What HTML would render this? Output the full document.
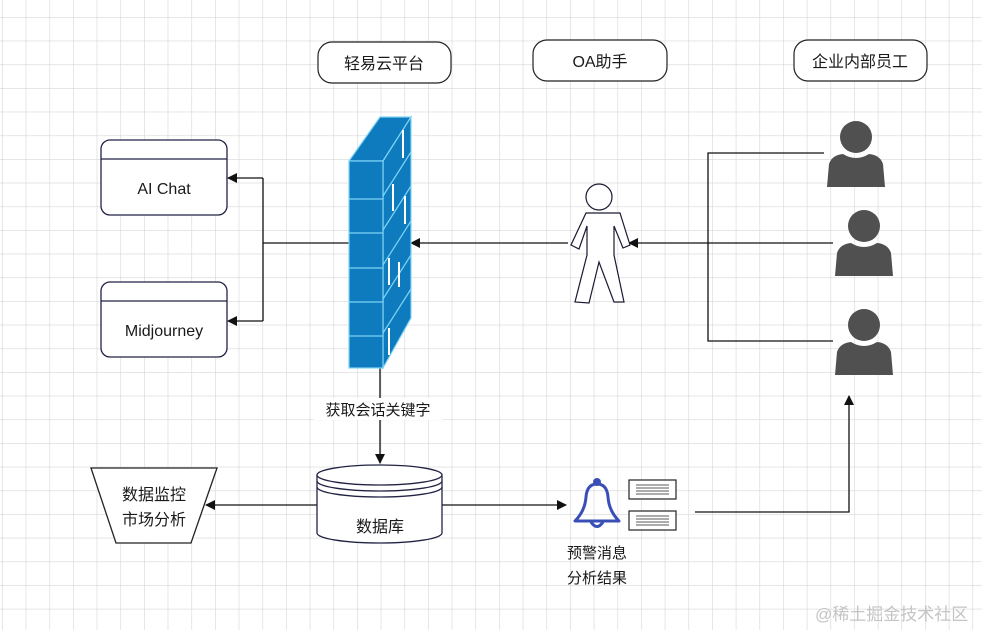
<!DOCTYPE html>
<html><head><meta charset="utf-8"><style>
html,body{margin:0;padding:0;background:#fff;width:982px;height:630px;overflow:hidden}
text{font-family:"Liberation Sans","Noto Sans CJK SC",sans-serif;fill:#1a1a1a}
</style></head><body>
<svg width="982" height="630" xmlns="http://www.w3.org/2000/svg">
<defs>
<pattern id="g" x="2" y="17" width="23.67" height="23.67" patternUnits="userSpaceOnUse">
<path d="M0 0H23.67M0 0V23.67" stroke="#d6d6d6" stroke-width="1.2" fill="none"/>
</pattern>
<marker id="a" viewBox="0 0 10 10" refX="9" refY="5" markerWidth="10" markerHeight="10" orient="auto-start-reverse" markerUnits="userSpaceOnUse">
<path d="M0 0L10 5L0 10z" fill="#111"/></marker>
</defs>
<rect width="982" height="630" fill="url(#g)"/>

<!-- top labels -->
<g fill="#fff" stroke="#222" stroke-width="1.2">
<rect x="318" y="42" width="133" height="41" rx="14"/>
<rect x="533" y="40" width="134" height="41" rx="14"/>
<rect x="794" y="40" width="133" height="41" rx="14"/>
</g>
<text x="384" y="69" font-size="16" text-anchor="middle">轻易云平台</text>
<text x="600" y="67" font-size="16" text-anchor="middle">OA助手</text>
<text x="860" y="67" font-size="16" text-anchor="middle">企业内部员工</text>

<!-- left boxes -->
<g fill="#fff" stroke="#222244" stroke-width="1.3">
<rect x="101" y="140" width="126" height="75" rx="9"/>
<line x1="101" y1="159" x2="227" y2="159"/>
<rect x="101" y="282" width="126" height="75" rx="9"/>
<line x1="101" y1="301" x2="227" y2="301"/>
</g>
<text x="164" y="194" font-size="16" text-anchor="middle">AI Chat</text>
<text x="164" y="336" font-size="16" text-anchor="middle">Midjourney</text>

<!-- connectors -->
<g stroke="#111" stroke-width="1.3" fill="none">
<path d="M349 243H263"/>
<path d="M263 178V321"/>
<path d="M263 178H228" marker-end="url(#a)"/>
<path d="M263 321H228" marker-end="url(#a)"/>
<path d="M568 243H411" marker-end="url(#a)"/>
<path d="M824 153H708V341H833"/>
<path d="M833 243H629" marker-end="url(#a)"/>
<path d="M380 368V463" marker-end="url(#a)"/>
<path d="M318 505H206" marker-end="url(#a)"/>
<path d="M442 505H566" marker-end="url(#a)"/>
<path d="M695 512H849V396" marker-end="url(#a)"/>
</g>
<rect x="314" y="398" width="128" height="22" fill="#fff"/>
<text x="378" y="415" font-size="15" text-anchor="middle">获取会话关键字</text>

<!-- wall -->
<g stroke="#7fd4f5" stroke-width="1.2" fill="#0e7bbf">
<polygon points="349,161 380,117 411,117 383,161"/>
<polygon points="383,161 411,117 411,318 383,368"/>
<rect x="349" y="161" width="34" height="207"/>
<line x1="349" y1="199" x2="383" y2="199"/>
<line x1="349" y1="233" x2="383" y2="233"/>
<line x1="349" y1="268" x2="383" y2="268"/>
<line x1="349" y1="302" x2="383" y2="302"/>
<line x1="349" y1="336" x2="383" y2="336"/>
<line x1="383" y1="196" x2="411" y2="152"/>
<line x1="383" y1="230" x2="411" y2="186"/>
<line x1="383" y1="265" x2="411" y2="221"/>
<line x1="383" y1="299" x2="411" y2="255"/>
<line x1="383" y1="333" x2="411" y2="289"/>
</g>
<g stroke="#fff" stroke-width="2">
<line x1="403" y1="130" x2="403" y2="158"/>
<line x1="393" y1="184" x2="393" y2="211"/>
<line x1="405" y1="196" x2="405" y2="224"/>
<line x1="389" y1="258" x2="389" y2="285"/>
<line x1="399" y1="262" x2="399" y2="287"/>
<line x1="389" y1="328" x2="389" y2="355"/>
</g>

<!-- outline person -->
<g fill="#fff" stroke="#1a1a33" stroke-width="1.2">
<circle cx="599" cy="197" r="13"/>
<path d="M586 213L620 213L630 245L623 248L614 226L614 255L624 302L614 302L599 262L589 303L575 302L587 255L587 226L579 249L571 245Z"/>
</g>

<!-- filled persons -->
<g fill="#505050">
<circle cx="856" cy="137" r="16"/>
<path d="M827 187L829 164Q832 155 843 154Q856 162 869 154Q880 155 883 164L885 187Z"/>
<circle cx="864" cy="226" r="16"/>
<path d="M835 276L837 253Q840 244 851 243Q864 251 877 243Q888 244 891 253L893 276Z"/>
<circle cx="864" cy="325" r="16"/>
<path d="M835 375L837 352Q840 343 851 342Q864 350 877 342Q888 343 891 352L893 375Z"/>
</g>

<!-- trapezoid -->
<polygon points="91,468 217,468 191,543 116,543" fill="#fff" stroke="#222" stroke-width="1.3"/>
<text x="154" y="500" font-size="16" text-anchor="middle">数据监控</text>
<text x="154" y="525" font-size="16" text-anchor="middle">市场分析</text>

<!-- database -->
<g fill="#fff" stroke="#222244" stroke-width="1.3">
<path d="M317 475V533A62.5 10 0 0 0 442 533V475"/>
<ellipse cx="379.5" cy="475" rx="62.5" ry="10"/>
<path d="M317 481A62.5 10 0 0 0 442 481" fill="none"/>
<path d="M317 487A62.5 10 0 0 0 442 487" fill="none"/>
</g>
<text x="380" y="532" font-size="16" text-anchor="middle">数据库</text>

<!-- bell -->
<g fill="none" stroke="#3a4fb5" stroke-width="3" stroke-linejoin="round">
<circle cx="597" cy="482" r="2.5" fill="#3a4fb5"/>
<path d="M597 484Q587 484 586 497Q585 511 575 521L619 521Q609 511 608 497Q607 484 597 484Z"/>
<path d="M591 522Q597 531 603 522"/>
</g>
<g fill="#fff" stroke="#222" stroke-width="1.2">
<rect x="629" y="480" width="47" height="19"/>
<rect x="629" y="511" width="47" height="19"/>
</g>
<g stroke="#222" stroke-width="0.8">
<path d="M636 485H669M636 488H669M636 491H669M636 494H669"/>
<path d="M636 516H669M636 519H669M636 522H669M636 525H669"/>
</g>
<text x="567" y="558" font-size="15">预警消息</text>
<text x="567" y="583" font-size="15">分析结果</text>

<text x="815" y="620" font-size="17" style="fill:#c4c4c4">@稀土掘金技术社区</text>
</svg>
</body></html>
